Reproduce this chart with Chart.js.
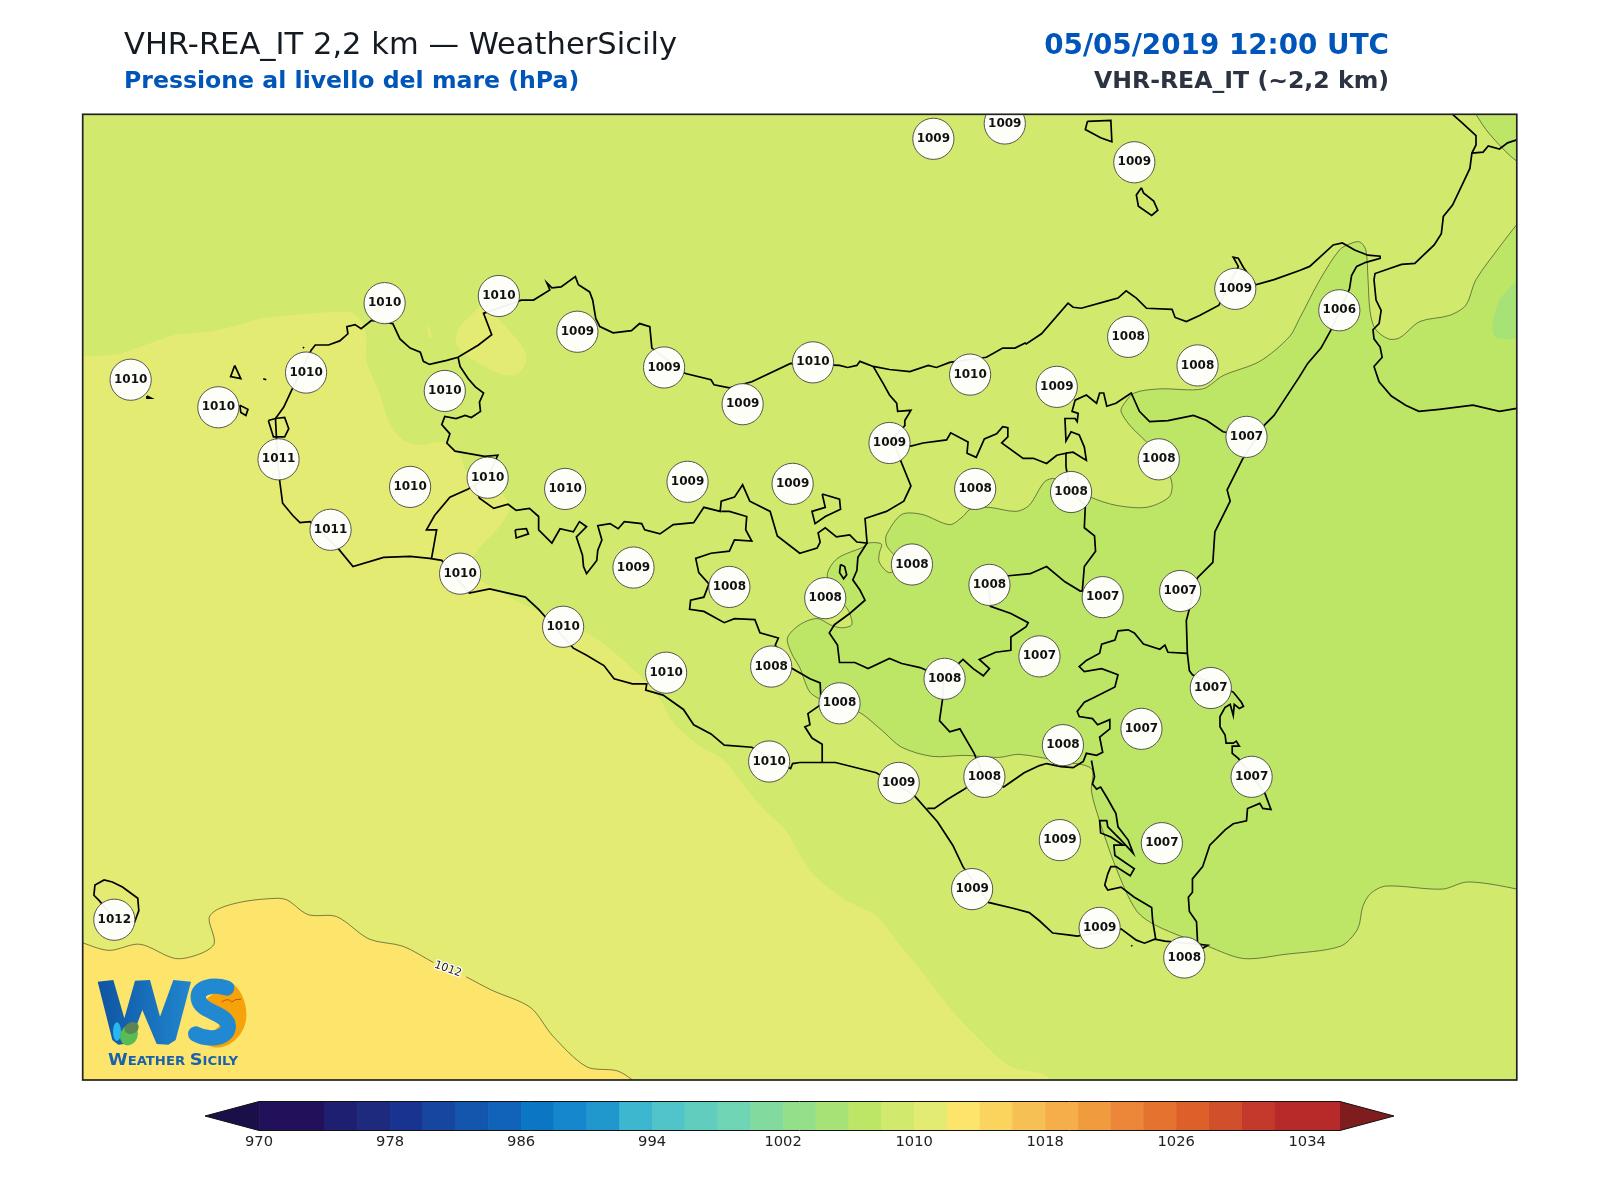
<!DOCTYPE html>
<html><head><meta charset="utf-8">
<script src="https://cdn.jsdelivr.net/npm/chart.js@4"></script>
<style>html,body{margin:0;padding:0;background:#fff}canvas{position:absolute;left:0}#map{top:0}#bar{top:1095px}</style>
</head><body>
<canvas id="map" width="1600" height="1200"></canvas>
<canvas id="bar" width="1600" height="105"></canvas>
<script>
// ---- titles
const titleMain = "VHR-REA_IT 2,2 km — WeatherSicily";
const titleSub = "Pressione al livello del mare (hPa)";
const titleDate = "05/05/2019 12:00 UTC";
const titleModel = "VHR-REA_IT (~2,2 km)";

// ---- stations (map units, pressure in hPa)
const stationX = [915,985,1112,1211,1313,377,489,566,651,728,797,951,1036,1106,1174,1222,1136,1050,128,214,300,436,273,872,402,478,554,674,777,956,324,894,621,451,715,809,970,1081,1157,552,1019,653,756,926,1187,823,1119,1042,754,881,965,1227,1039,1139,953,1078,1161,112];
const stationY = [136,121,159,283,304,297,290,325,360,396,355,367,379,330,358,428,450,482,372,399,365,383,450,434,477,468,479,472,474,479,519,553,556,562,575,586,573,585,579,614,643,659,653,665,674,689,714,730,746,767,761,761,823,826,871,909,938,901];
const stationP = [1009,1009,1009,1009,1006,1010,1010,1009,1009,1009,1010,1010,1009,1008,1008,1007,1008,1008,1010,1010,1010,1010,1011,1009,1010,1010,1010,1009,1009,1008,1011,1008,1009,1010,1008,1008,1008,1007,1007,1010,1007,1010,1008,1008,1007,1008,1007,1008,1010,1009,1008,1007,1009,1007,1009,1009,1008,1012];

// ---- pressure bands and isobars (map units)
const outerFrame = [[0,0],[1600,0],[1600,1200],[0,1200]];
const band1010Edge = [[0,349],[82,349],[115,347],[145,337],[172,328],[205,325],[235,318],[255,312],[281,309],[343,306],[354,314],[359,330],[359,353],[372,385],[382,415],[395,431],[412,436],[435,433],[451,446],[457,461],[490,482],[500,497],[487,519],[474,532],[464,546],[462,560],[480,574],[530,600],[575,620],[595,633],[620,655],[645,682],[660,708],[685,730],[710,745],[725,764],[750,794],[770,813],[784,837],[799,858],[829,882],[859,897],[879,922],[904,952],[929,985],[954,1012],[989,1044],[1029,1058],[1060,1200]];
const band1010Corner = [[0,1200]];
const patch1010North = [[474,297],[451,320],[447,335],[457,348],[490,366],[506,367],[516,354],[513,341],[496,320],[477,300]];
const patch1010Spot = [[419,320],[421,320],[423,330],[420,331]];
const isobar1012West = [[60,915],[82,924],[107,931],[137,925],[172,939],[197,934],[210,924],[205,899],[215,890],[240,883],[272,880],[282,882],[302,896],[330,898],[362,920],[395,927],[425,943]];
const isobar1012East = [[457,957],[482,970],[520,987],[542,1015],[575,1045],[605,1049],[620,1058],[640,1075]];
const band1012Corner = [[640,1200],[40,1200]];
const isobar1008 = [[1560,890],[1487,871],[1439,864],[1414,871],[1359,868],[1344,875],[1336,888],[1331,910],[1314,927],[1259,935],[1219,939],[1184,927],[1134,907],[1114,892],[1094,850],[1076,798],[1070,775],[1070,753],[1040,746],[999,739],[979,742],[946,740],[914,741],[884,732],[864,715],[841,697],[809,687],[794,678],[784,654],[776,640],[772,625],[784,612],[801,606],[816,613],[826,615],[835,612],[833,601],[828,593],[818,585],[811,563],[821,547],[846,536],[851,532],[864,533],[862,542],[862,551],[872,561],[884,552],[874,541],[869,534],[869,524],[884,504],[904,504],[931,514],[944,506],[951,499],[969,497],[996,501],[1009,495],[1024,472],[1034,469],[1069,487],[1094,495],[1124,497],[1146,487],[1149,474],[1140,450],[1124,433],[1107,416],[1099,403],[1101,397],[1112,385],[1137,381],[1179,381],[1199,368],[1235,354],[1264,330],[1274,312],[1294,274],[1313,245],[1323,239],[1333,237],[1339,245],[1341,271],[1343,304],[1348,322],[1361,332],[1372,331],[1392,315],[1421,309],[1437,299],[1447,274],[1470,242],[1487,220],[1560,130]];
const band1008Corner = [[1600,130],[1600,890]];
const isobar1008North = [[1435,90],[1447,112],[1460,131],[1487,158],[1540,190]];
const band1008NorthCorner = [[1600,190],[1600,90]];
const patch1006 = [[1520,230],[1487,274],[1470,294],[1463,320],[1467,331],[1487,332],[1520,332]];

// ---- coast and provincial borders (map units)
const coastSicily = [[274,470],[277,493],[287,505],[294,512],[304,511],[332,538],[346,555],[376,546],[402,545],[421,547],[433,549],[460,581],[480,577],[515,585],[528,597],[562,635],[575,642],[592,652],[602,665],[620,670],[634,670],[633,676],[650,681],[670,695],[680,710],[697,719],[710,730],[737,732],[775,753],[777,748],[784,747],[819,747],[859,757],[896,779],[919,805],[934,828],[944,849],[969,884],[994,890],[1009,894],[1019,902],[1032,914],[1049,916],[1056,917],[1099,910],[1114,921],[1122,924],[1132,920],[1142,922],[1184,926],[1179,929],[1174,923],[1173,903],[1166,893],[1165,879],[1169,874],[1169,861],[1179,849],[1186,828],[1201,813],[1209,807],[1222,804],[1223,792],[1235,787],[1238,792],[1246,793],[1240,777],[1214,743],[1208,738],[1208,731],[1215,731],[1212,726],[1209,728],[1202,728],[1201,720],[1196,712],[1196,702],[1201,693],[1206,690],[1209,701],[1210,690],[1215,694],[1219,692],[1217,688],[1209,678],[1169,661],[1166,657],[1164,640],[1163,608],[1174,566],[1189,551],[1191,521],[1206,491],[1203,480],[1218,450],[1240,416],[1249,407],[1274,369],[1282,356],[1295,341],[1305,323],[1323,283],[1325,270],[1330,261],[1339,257],[1353,253],[1353,251],[1341,250],[1328,245],[1316,238],[1307,240],[1284,261],[1274,265],[1249,274],[1231,279],[1219,262],[1214,253],[1209,252],[1214,261],[1195,299],[1176,309],[1163,315],[1152,311],[1149,303],[1124,302],[1114,292],[1104,285],[1096,292],[1085,295],[1060,302],[1052,301],[1047,297],[1021,327],[1006,337],[1005,336],[995,341],[983,341],[967,350],[931,355],[918,360],[910,358],[892,364],[872,362],[856,359],[843,354],[840,358],[831,360],[823,358],[775,356],[737,374],[715,380],[700,377],[697,372],[672,366],[639,341],[637,320],[627,317],[619,324],[601,326],[588,320],[584,312],[581,294],[578,286],[567,279],[564,271],[550,281],[541,282],[536,277],[539,284],[523,294],[511,294],[474,307],[482,328],[469,338],[449,350],[438,353],[421,357],[415,354],[412,345],[402,341],[392,332],[385,317],[364,314],[354,322],[348,318],[340,320],[341,327],[333,334],[322,338],[309,338],[305,343],[286,382],[278,399],[270,410],[272,449],[274,470]];
const borderPalermoTrapani = [[449,350],[451,359],[459,371],[466,379],[474,385],[470,394],[471,403],[462,409],[456,407],[447,410],[436,408],[433,416],[441,425],[438,434],[446,442],[475,447],[488,446],[478,467],[459,479],[441,487],[426,505],[418,519],[428,519],[423,547]];
const borderAgrigentoPalermo = [[465,475],[470,488],[484,498],[498,494],[506,500],[519,498],[528,506],[528,519],[541,532],[549,518],[562,521],[568,511],[575,516],[565,526],[571,544],[572,555],[575,562],[585,549],[586,539],[590,529],[586,515],[598,513],[606,518],[612,511],[629,513],[632,519],[647,523],[660,514],[680,512],[690,497],[706,501],[707,491],[720,487],[728,475],[735,491],[755,501],[762,525],[784,542],[801,537],[804,531],[802,522],[809,517],[820,526],[833,524],[840,531],[850,532],[848,508],[869,501],[886,491],[893,476],[884,454],[875,430],[887,417],[887,412],[893,402],[880,403],[879,395],[872,387],[866,376],[856,359]];
const borderCaltanissetta = [[707,501],[715,501],[732,506],[731,519],[737,530],[720,529],[715,540],[697,542],[682,547],[685,561],[695,572],[690,585],[677,588],[676,597],[690,599],[710,610],[720,606],[740,607],[745,620],[763,625],[760,632],[775,654],[794,665],[804,669],[805,690],[792,699],[794,710],[789,712],[796,723],[806,729],[806,747]];
const borderEnna = [[850,532],[841,546],[840,559],[836,568],[843,578],[848,588],[833,601],[818,612],[813,620],[821,632],[823,649],[838,649],[851,655],[872,645],[884,650],[902,654],[925,664],[944,646],[954,655],[964,662],[970,655],[960,646],[976,639],[991,637],[991,624],[1006,614],[1008,610],[991,601],[971,594],[969,572],[989,564],[1010,562],[1026,555],[1044,570],[1059,579],[1061,579],[1063,555],[1074,540],[1073,525],[1063,517],[1064,495],[1049,481],[1045,457],[1045,444],[1036,446],[1026,454],[1013,449],[1003,449],[982,434],[988,428],[988,419],[983,418],[977,425],[965,430],[957,448],[948,444],[949,433],[932,424],[928,431],[905,434],[893,437],[871,433]];
const borderMessina = [[1045,444],[1052,443],[1065,451],[1063,438],[1058,426],[1050,423],[1045,432],[1044,410],[1054,410],[1056,413],[1057,405],[1051,403],[1054,392],[1065,387],[1075,395],[1078,385],[1082,385],[1085,398],[1094,395],[1109,385],[1117,403],[1127,413],[1145,412],[1170,407],[1183,412],[1199,423],[1221,427]];
const borderRagusa = [[925,664],[924,685],[921,706],[931,717],[941,714],[955,738],[964,760],[944,774],[929,783],[916,792],[909,792]];
const borderSiracusa = [[964,760],[984,771],[1004,757],[1019,750],[1026,748],[1040,751],[1052,752],[1062,746],[1065,738],[1075,740],[1081,737],[1078,722],[1088,714],[1088,705],[1076,710],[1071,704],[1058,702],[1056,697],[1063,688],[1073,683],[1093,673],[1096,661],[1080,655],[1063,658],[1058,653],[1065,647],[1078,640],[1080,631],[1093,627],[1096,618],[1106,617],[1112,620],[1121,631],[1137,636],[1142,632],[1145,639],[1164,640]];
const borderRagusaEast = [[1070,745],[1073,761],[1071,768],[1075,773],[1079,771],[1085,781],[1094,797],[1096,810],[1106,823],[1111,836],[1099,823],[1086,810],[1085,804],[1078,804],[1079,816],[1089,820],[1101,828],[1092,828],[1093,838],[1112,851],[1108,858],[1094,849],[1089,849],[1086,856],[1083,867],[1086,872],[1099,869],[1112,879],[1129,889],[1130,902],[1133,920]];
const enclaveMonreale = [[806,484],[823,489],[824,499],[809,506],[799,513],[796,501],[809,497],[806,484]];
const enclaveWest = [[505,519],[516,518],[518,523],[506,527],[505,519]];
const enclaveOval = [[824,553],[828,555],[830,563],[827,567],[823,561],[824,553]];
const islandLipari = [[1066,119],[1089,118],[1090,139],[1079,135],[1064,127],[1066,119]];
const islandVulcano = [[1119,184],[1114,191],[1116,202],[1129,211],[1135,206],[1131,197],[1121,189],[1119,184]];
const islandFavignana = [[230,358],[226,369],[236,371],[230,358]];
const islandLevanzoA = [[258,371],[261,372]];
const islandFormica = [[235,397],[243,401],[241,407],[236,404],[235,397]];
const islandMarettimo = [[144,388],[148,390],[144,390],[144,388]];
const islandStagnone = [[263,412],[270,410],[279,409],[283,420],[279,428],[268,428],[263,412]];
const islandUstica = [[297,340],[298,341]];
const islandPantelleria = [[97,882],[92,877],[93,867],[102,862],[110,864],[120,869],[135,880],[136,892],[132,903],[112,900],[97,882]];
const islandCapoPassero = [[1109,926],[1110,927]];
const coastCalabria = [[1424,112],[1434,121],[1447,133],[1447,142],[1443,150],[1441,165],[1434,180],[1424,201],[1415,212],[1413,229],[1406,240],[1387,258],[1374,259],[1348,268],[1347,274],[1349,294],[1354,304],[1352,317],[1346,323],[1347,332],[1353,340],[1355,350],[1347,359],[1352,374],[1364,388],[1378,397],[1391,403],[1411,401],[1444,397],[1470,403],[1487,400]];
const borderCalabria = [[1443,150],[1454,149],[1459,143],[1470,146],[1478,140],[1487,137]];

// ---- colour bar
const barLevels = [970,974,976,978,980,982,984,986,988,990,992,994,996,998,1000,1002,1004,1006,1008,1010,1012,1014,1016,1018,1020,1022,1024,1026,1028,1030,1032,1036];
const barColors = ["#22105a","#1e1f70","#1d2a7e","#183490","#16469f","#1256ae","#1063b8","#0b76c4","#1587cc","#2098ce","#3db7d0","#50c4c8","#60cdbf","#6fd5b4","#82da9f","#94df89","#a7e276","#bde667","#d1e96c","#e3eb72","#fde46a","#fbd45e","#f7c055","#f5ae4a","#f09b3e","#ec8638","#e67230","#dd5f2a","#d24f2b","#c4392b","#b82a2a"];
const barUnder = "#1b0f4a", barOver = "#7f1c1e";
const barTicks = [970,978,986,994,1002,1010,1018,1026,1034];
const barRange = [966.7,1039.3];

const pts = a => a.map(p => ({x:p[0], y:p[1]}));
const datasets = [];
const add = d => { d.order = 1000 - datasets.length; d.clip = 0; d.pointRadius = d.pointRadius || 0; datasets.push(d); };
const fillBand = (arr, color) => add({data:pts(arr), fill:'shape', backgroundColor:color, borderWidth:0, tension:0.3, capBezierPoints:false});
const stroke = (arr, color, w, t) => add({data:pts(arr), fill:false, borderColor:color, borderWidth:w, tension:t, capBezierPoints:false});

fillBand(outerFrame, "#d1e96c");
fillBand(band1010Edge.concat(band1010Corner), "#e3eb72");
fillBand(patch1010North, "#e3eb72");
fillBand(patch1010Spot, "#e3eb72");
fillBand(isobar1012West.concat(isobar1012East, band1012Corner), "#fde46a");
fillBand(isobar1008.concat(band1008Corner), "#bde667");
fillBand(isobar1008North.concat(band1008NorthCorner), "#bde667");
fillBand(patch1006, "#a7e276");
[isobar1012West, isobar1012East, isobar1008, isobar1008North].forEach(a => stroke(a, "rgba(30,40,30,.8)", 0.7, 0.3));
[coastSicily, borderPalermoTrapani, borderAgrigentoPalermo, borderCaltanissetta, borderEnna, borderMessina, borderRagusa, borderSiracusa, borderRagusaEast, enclaveMonreale, enclaveWest, enclaveOval, islandLipari, islandVulcano, islandFavignana, islandLevanzoA, islandFormica, islandMarettimo, islandStagnone, islandUstica, islandPantelleria, islandCapoPassero, coastCalabria, borderCalabria].forEach(a => stroke(a, "#000", 1.7, 0));
add({data:stationX.map((x,i)=>({x, y:stationY[i]})), showLine:false, pointRadius:20.6, pointBackgroundColor:"rgba(255,255,255,.95)", pointBorderColor:"#444", pointBorderWidth:0.9});
const stationIndex = datasets.length - 1;

function drawLogo(ctx){
  ctx.save();
  ctx.translate(85,960); ctx.scale(1/3,1/3);
  const poly = a => { ctx.beginPath(); a.forEach((p,i)=> i?ctx.lineTo(p[0],p[1]):ctx.moveTo(p[0],p[1])); ctx.closePath(); };
  const g = ctx.createLinearGradient(40,0,310,0); g.addColorStop(0,"#0f54a2"); g.addColorStop(1,"#2085ce");
  ctx.fillStyle = "#f6a20a";
  ctx.beginPath(); ctx.moveTo(440,68); ctx.bezierCurveTo(480,95,490,160,482,185); ctx.bezierCurveTo(470,240,420,268,385,262); ctx.lineTo(350,250); ctx.lineTo(430,170); ctx.lineTo(360,120); ctx.lineTo(400,90); ctx.closePath(); ctx.fill();
  poly([[38,65],[85,60],[118,175],[150,62],[195,60],[225,170],[265,60],[318,65],[272,240],[250,254],[215,252],[172,150],[135,250],[100,254],[82,240]]);
  ctx.fillStyle = g; ctx.fill();
  ctx.fillStyle = "#29b6ee"; ctx.beginPath(); ctx.ellipse(96,215,12,28,0,0,7); ctx.fill();
  ctx.fillStyle = "#58bb56"; ctx.beginPath(); ctx.ellipse(132,225,26,32,0.4,0,7); ctx.fill();
  ctx.fillStyle = "#5d8552"; ctx.beginPath(); ctx.ellipse(140,204,22,17,-0.4,0,7); ctx.fill();
  ctx.strokeStyle = "#2189d2"; ctx.lineWidth = 46; ctx.lineCap = "round";
  ctx.beginPath(); ctx.moveTo(425,84); ctx.bezierCurveTo(385,72,335,80,340,115); ctx.bezierCurveTo(345,160,428,155,430,200); ctx.bezierCurveTo(427,240,365,240,332,222); ctx.stroke();
  ctx.strokeStyle = "#b5411c"; ctx.lineWidth = 2.5; ctx.lineCap = "butt";
  ctx.beginPath(); ctx.moveTo(410,126); ctx.quadraticCurveTo(430,112,440,126); ctx.quadraticCurveTo(450,116,468,118); ctx.stroke();
  ctx.restore();
  const parts = [["W",15.5],["EATHER ",11.5],["S",15.5],["ICILY",11.5]];
  ctx.save(); ctx.fillStyle = "#1b62ad"; ctx.textAlign = "left"; ctx.textBaseline = "alphabetic";
  let total = 0; parts.forEach(p => { ctx.font = `bold ${p[1]}px "DejaVu Sans"`; total += ctx.measureText(p[0]).width; });
  ctx.translate(108,1065); ctx.scale(130/total,1);
  let xpos = 0; parts.forEach(p => { ctx.font = `bold ${p[1]}px "DejaVu Sans"`; ctx.fillText(p[0],xpos,0); xpos += ctx.measureText(p[0]).width; });
  ctx.restore();
}

const mapOverlay = {
  id:'mapOverlay',
  afterDatasetsDraw(chart){
    const {ctx, chartArea:a} = chart;
    drawLogo(ctx);
    // isobar label
    ctx.save();
    ctx.translate(chart.scales.x.getPixelForValue(439), chart.scales.y.getPixelForValue(949.5));
    ctx.rotate(20*Math.PI/180);
    ctx.font = '11px "DejaVu Sans"'; ctx.textAlign='center'; ctx.textBaseline='middle';
    ctx.lineWidth=2.5; ctx.strokeStyle='#fff'; ctx.lineJoin='round'; ctx.strokeText("1012",0,0);
    ctx.fillStyle='#222'; ctx.fillText("1012",0,0);
    ctx.restore();
    // station values
    ctx.save();
    ctx.beginPath(); ctx.rect(a.left,a.top,a.right-a.left,a.bottom-a.top); ctx.clip();
    ctx.font='bold 12px "DejaVu Sans"'; ctx.fillStyle='#111'; ctx.textAlign='center'; ctx.textBaseline='middle';
    chart.getDatasetMeta(stationIndex).data.forEach((el,i)=> ctx.fillText(String(stationP[i]), el.x, el.y));
    ctx.restore();
    // frame
    ctx.save(); ctx.strokeStyle='#222'; ctx.lineWidth=1.7; ctx.strokeRect(a.left,a.top,a.right-a.left,a.bottom-a.top); ctx.restore();
    // headings
    ctx.save(); ctx.textBaseline='alphabetic';
    ctx.textAlign='left';
    ctx.font='30.55px "DejaVu Sans"'; ctx.fillStyle='#131a22'; ctx.fillText(titleMain,124,54);
    ctx.font='bold 23.6px "DejaVu Sans"'; ctx.fillStyle='#0055b8'; ctx.fillText(titleSub,124,88);
    ctx.textAlign='right';
    ctx.font='bold 27.8px "DejaVu Sans"'; ctx.fillStyle='#0055b8'; ctx.fillText(titleDate,1389,54);
    ctx.font='bold 23.6px "DejaVu Sans"'; ctx.fillStyle='#2b3440'; ctx.fillText(titleModel,1389,88);
    ctx.restore();
  }
};

new Chart(document.getElementById('map'), {
  type:'line',
  data:{datasets},
  plugins:[mapOverlay],
  options:{
    responsive:false, devicePixelRatio:1, animation:false, events:[],
    layout:{padding:{left:82.7,right:83.2,top:114.3,bottom:120}},
    plugins:{legend:{display:false},tooltip:{enabled:false},title:{display:false}},
    scales:{
      x:{type:'linear',display:false,min:81,max:1487},
      y:{type:'linear',display:false,min:112,max:1058,reverse:true}
    }
  }
});

// colour bar
const barSets = [];
const barAdd = d => { d.order = 1000 - barSets.length; d.pointRadius = 0; d.clip = false; barSets.push(d); };
barColors.forEach((c,i)=> barAdd({data:[{x:barLevels[i],y:0},{x:barLevels[i+1],y:0},{x:barLevels[i+1],y:1},{x:barLevels[i],y:1}], fill:'shape', backgroundColor:c, borderColor:c, borderWidth:0.5}));
barAdd({data:[{x:970,y:0},{x:barRange[0],y:0.5},{x:970,y:1}], fill:'shape', backgroundColor:barUnder, borderWidth:0});
barAdd({data:[{x:1036,y:0},{x:barRange[1],y:0.5},{x:1036,y:1}], fill:'shape', backgroundColor:barOver, borderWidth:0});
barAdd({data:[{x:970,y:1},{x:barRange[0],y:0.5},{x:970,y:0},{x:1036,y:0},{x:barRange[1],y:0.5},{x:1036,y:1},{x:970,y:1}], fill:false, borderColor:"#111", borderWidth:1});

new Chart(document.getElementById('bar'), {
  type:'line',
  data:{datasets:barSets},
  options:{
    responsive:false, devicePixelRatio:1, animation:false, events:[],
    layout:{padding:{left:205,right:206,top:6.5,bottom:41.5}},
    plugins:{legend:{display:false},tooltip:{enabled:false}},
    scales:{
      x:{type:'linear',min:barRange[0],max:barRange[1],grid:{display:false,drawTicks:false},border:{display:false},
         afterBuildTicks:s=>{s.ticks=barTicks.map(v=>({value:v}));},
         afterFit:s=>{s.height=28;},
         ticks:{autoSkip:false,maxRotation:0,padding:3,color:'#222',font:{family:'"DejaVu Sans"',size:14.7},callback:v=>String(v)}},
      y:{type:'linear',min:0,max:1,display:false,reverse:true}
    }
  }
});
</script>
</body></html>
